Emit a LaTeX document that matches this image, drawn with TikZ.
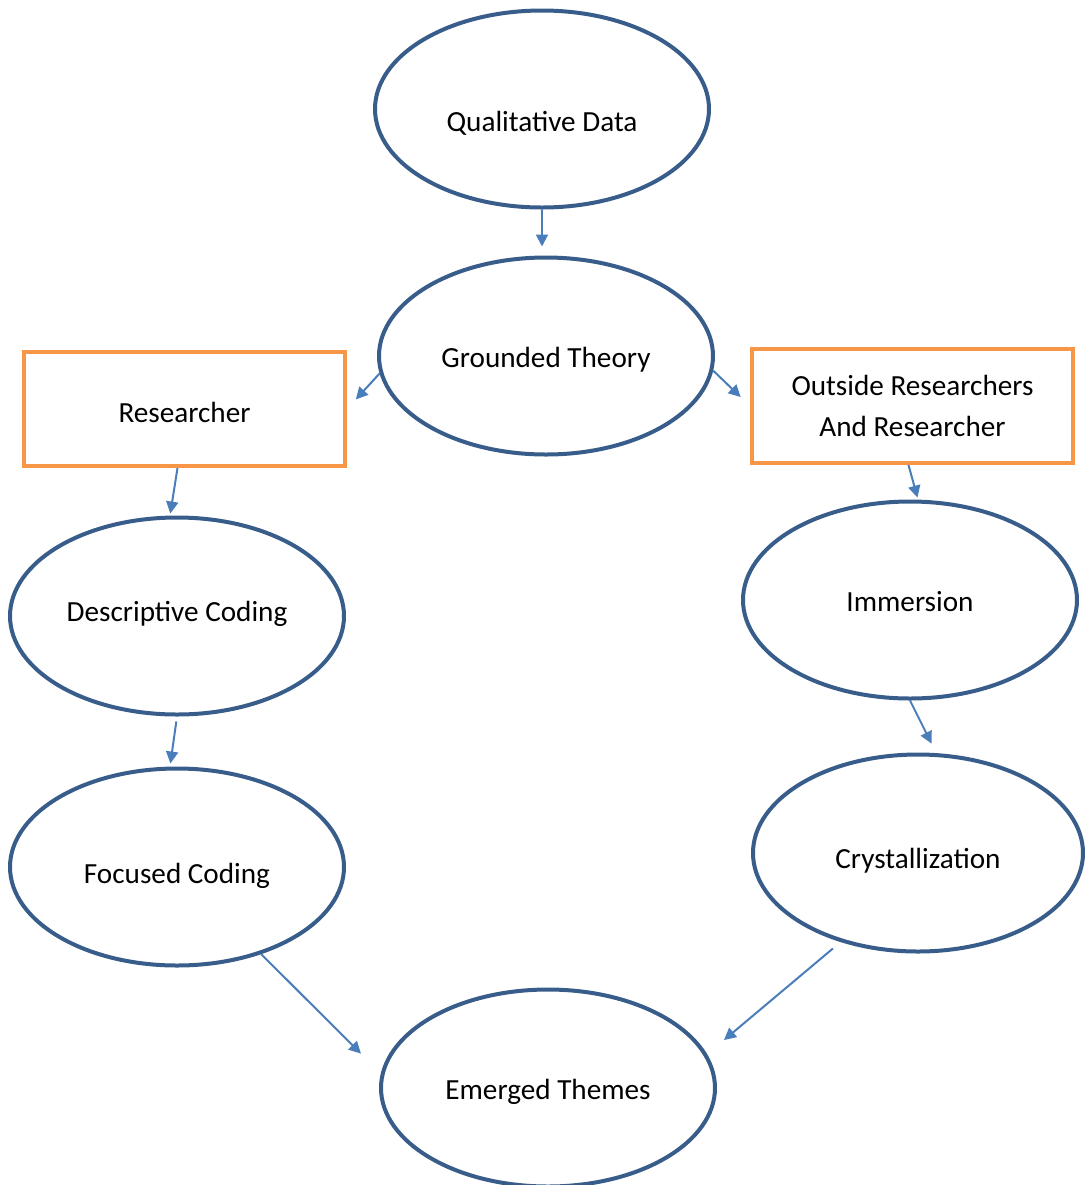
\documentclass[tikz,border=0pt]{standalone}
\usepackage{fontspec}
\setmainfont{Carlito}
\usetikzlibrary{shapes.geometric,arrows.meta}

\definecolor{ovalline}{rgb}{0.220, 0.365, 0.541}
\definecolor{boxline}{rgb}{0.969, 0.588, 0.275}
\definecolor{arrowline}{rgb}{0.290, 0.494, 0.733}
% move the text of a node down without changing its size
\newcommand{\lowtext}[2]{\raisebox{-#1}[\height][\depth]{#2}}

\begin{document}
\begin{tikzpicture}[x=0.5pt,y=-0.5pt,
  oval/.style={ellipse,draw=ovalline,line width=2pt,fill=white,inner sep=0pt,
    minimum width=167pt,minimum height=98.5pt,font=\fontsize{14.6}{20.5}\selectfont},
  orangebox/.style={rectangle,draw=boxline,line width=2pt,fill=white,inner sep=0pt,
    minimum width=160.5pt,minimum height=57pt,align=center,font=\fontsize{14.6}{20.5}\selectfont},
  arr/.style={draw=arrowline,line width=1pt,-{Triangle[length=6pt,width=6pt]}}]
\useasboundingbox (0,0) rectangle (1084,1185);
% ovals and boxes
\node[oval] (qdata) at (542,109) {\lowtext{7pt}{Qualitative Data}};
\node[oval] (gtheory) at (546,356) {\lowtext{2pt}{Grounded Theory}};
\node[orangebox] (res) at (184.5,409) {\lowtext{1.5pt}{Researcher}};
\node[orangebox] (outres) at (912.5,406) {Outside Researchers\\And Researcher};
\node[oval] (desc) at (177,616) {\lowtext{-1pt}{Descriptive Coding}};
\node[oval] (immer) at (910,600) {\lowtext{1pt}{Immersion}};
\node[oval] (focus) at (177,867) {\lowtext{4.5pt}{Focused Coding}};
\node[oval,minimum width=165pt] (cryst) at (918,853) {\lowtext{4pt}{Crystallization}};
\node[oval] (themes) at (548,1088) {\lowtext{2pt}{Emerged Themes}};
% arrows
\draw[arr,shorten >=4.5pt] (qdata.south) -- (qdata.south |- gtheory.north);
\draw[arr,shorten >=6.5pt] (gtheory.186) -- (res.east);
\draw[arr,shorten >=6.5pt] (gtheory.355) -- (outres.west);
\draw[arr,shorten >=1pt] ([xshift=-3.5pt]res.south) -- ([xshift=-3.5pt]desc.north);
\draw[arr,shorten >=1pt] ([xshift=-2pt]outres.south) -- ([xshift=4pt]immer.north);
\draw[arr,shorten <=2.5pt,shorten >=1.5pt] (desc.south) -- ([xshift=-3.5pt]focus.north);
\draw[arr,shorten >=5pt] (immer.south) -- ([xshift=9pt]cryst.north);
\draw[arr,shorten >=14pt] (focus.314) -- (themes.175);
\draw[arr,shorten <=5pt,shorten >=11pt] (cryst.229) -- (themes.12);
\end{tikzpicture}
\end{document}
